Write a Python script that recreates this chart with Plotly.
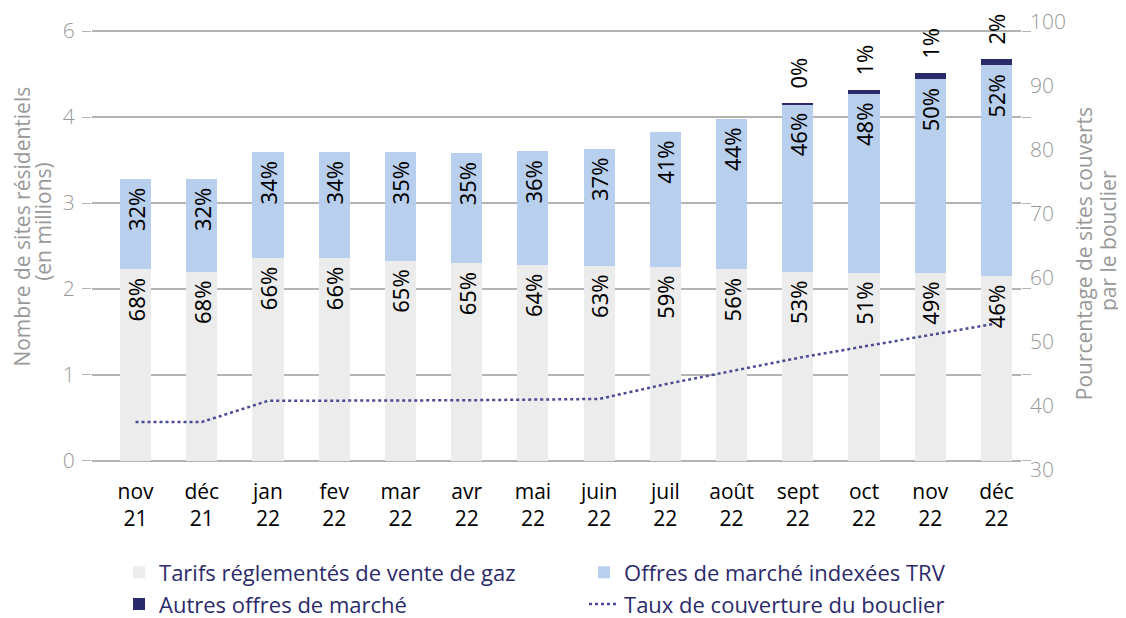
import plotly.graph_objects as go

categories = ["nov<br>21", "déc<br>21", "jan<br>22", "fev<br>22", "mar<br>22", "avr<br>22", "mai<br>22",
              "juin<br>22", "juil<br>22", "août<br>22", "sept<br>22", "oct<br>22", "nov<br>22", "déc<br>22"]
trv = [2.23, 2.20, 2.36, 2.36, 2.33, 2.30, 2.28, 2.27, 2.26, 2.23, 2.20, 2.19, 2.19, 2.15]
indexees = [1.05, 1.08, 1.23, 1.23, 1.26, 1.28, 1.32, 1.36, 1.57, 1.75, 1.95, 2.08, 2.25, 2.45]
autres = [0.0, 0.0, 0.0, 0.0, 0.0, 0.0, 0.0, 0.0, 0.0, 0.0, 0.012, 0.045, 0.07, 0.075]
trv_pct = ["68%", "68%", "66%", "66%", "65%", "65%", "64%", "63%", "59%", "56%", "53%", "51%", "49%", "46%"]
idx_pct = ["32%", "32%", "34%", "34%", "35%", "35%", "36%", "37%", "41%", "44%", "46%", "48%", "50%", "52%"]
autres_pct = ["", "", "", "", "", "", "", "", "", "", "0%", "1%", "1%", "2%"]
taux = [37.5, 37.5, 40.8, 40.8, 40.9, 40.9, 41.0, 41.1, 43.4, 45.5, 47.5, 49.3, 51.1, 52.9]

left_ticks = [0, 1, 2, 3, 4, 5]
left_ticktext = ["0", "1", "2", "3", "4", "6"]

left_title = ["Nombre de sites résidentiels", "(en millions)"]
right_title = ["Pourcentage de sites couverts", "par le bouclier"]

FONT = "Open Sans"
LABEL_FONT = "Noto Sans"
GRAY = "#999999"
NAVY = "#2b2a6b"
NBSP = "\u00a0"

fig = go.Figure()
common = dict(textangle=-90, textfont=dict(family=LABEL_FONT, size=22, color="black"),
              constraintext="none", cliponaxis=False, width=0.47)
fig.add_trace(go.Bar(x=categories, y=trv, name="Tarifs réglementés de vente de gaz",
                     marker=dict(color="#ececec", line=dict(width=0)),
                     text=[t + NBSP for t in trv_pct], textposition="inside",
                     insidetextanchor="end", **common))
fig.add_trace(go.Bar(x=categories, y=indexees, name="Offres de marché indexées TRV",
                     marker=dict(color="#b9cfee", line=dict(width=0)),
                     text=[t + NBSP for t in idx_pct], textposition="inside",
                     insidetextanchor="end", **common))
fig.add_trace(go.Bar(x=categories, y=autres, name="Autres offres de marché",
                     marker=dict(color=NAVY, line=dict(width=0)),
                     text=[(NBSP * 2 + t) if t else "" for t in autres_pct],
                     textposition="outside", **common))
fig.add_trace(go.Scatter(x=categories, y=taux, name="Taux de couverture du bouclier", yaxis="y2",
                         mode="lines", line=dict(color="#4b4b94", width=2.5, dash="dot")))

tickfont = dict(family=FONT, size=21, color=GRAY, weight=300)
title_font = dict(family=FONT, size=21, color=GRAY)

annotations = [
    dict(text=left_title[0], x=-0.0758, y=0.5424),
    dict(text=left_title[1], x=-0.0528, y=0.556),
    dict(text=right_title[0], x=1.068, y=0.482),
    dict(text=right_title[1], x=1.0935, y=0.513),
]
for a in annotations:
    a.update(textangle=-90, xref="paper", yref="paper", xanchor="center", yanchor="middle",
             showarrow=False, font=title_font)

fig.update_layout(
    width=1118, height=610,
    margin=dict(l=84, r=105, t=14, b=148, autoexpand=False),
    barmode="stack",
    plot_bgcolor="white", paper_bgcolor="white",
    font=dict(family=FONT),
    xaxis=dict(type="category", range=[-0.657, 13.37], showgrid=False, showline=False, ticks="",
               automargin=False, ticklabelstandoff=7,
               tickfont=dict(family=FONT, size=21, color="black")),
    yaxis=dict(range=[-0.105, 5.105], tickvals=left_ticks, ticktext=left_ticktext,
               showgrid=True, gridcolor="#b3b3b3", gridwidth=1.5, automargin=False,
               zeroline=True, zerolinecolor="#b3b3b3", zerolinewidth=1.5,
               ticks="outside", ticklen=9, tickcolor="#b3b3b3", mirror="ticks",
               ticklabelstandoff=3, ticklabeloverflow="allow", tickfont=tickfont),
    yaxis2=dict(overlaying="y", side="right", range=[30, 100], dtick=10, showgrid=False,
                zeroline=False, ticks="", ticklabelstandoff=8, automargin=False,
                ticklabeloverflow="allow", tickfont=tickfont),
    legend=dict(orientation="h", xref="container", yref="container", x=0.0993, y=0.109,
                xanchor="left", yanchor="top", entrywidth=420, tracegroupgap=0,
                font=dict(family=FONT, size=22, color=NAVY), itemwidth=30,
                traceorder="normal"),
    showlegend=True,
    annotations=annotations,
)

fig.write_html("out.html")
